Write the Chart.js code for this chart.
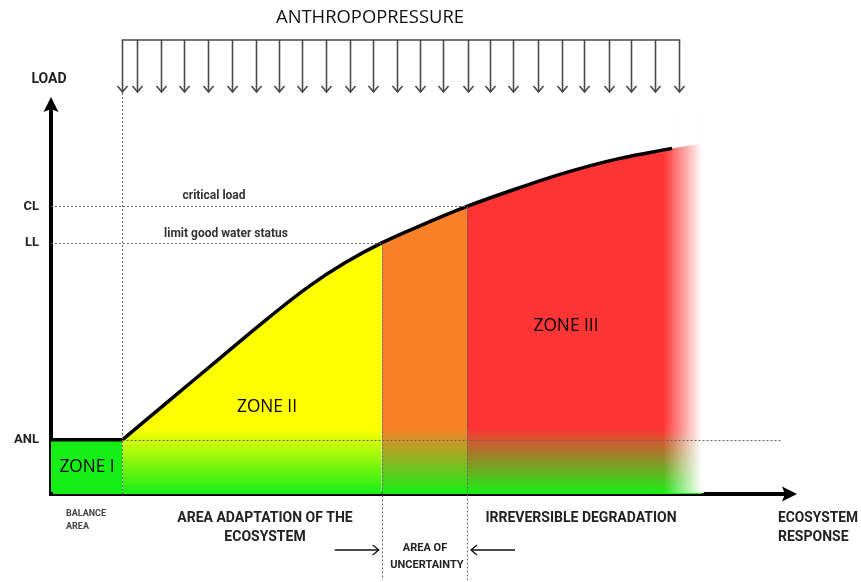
<!DOCTYPE html>
<html><head><meta charset="utf-8">
<script src="https://cdn.jsdelivr.net/npm/chart.js@4.4.1/dist/chart.umd.min.js"></script>
<style>html,body{margin:0;padding:0;background:#fff}#wrap{width:861px;height:582px;position:relative}</style>
</head><body><div id="wrap"><canvas id="c" width="861" height="582"></canvas></div>
<script>
// ---- data (diagram units: x 0-100 ecosystem response, y 0-100 load) ----
const curveX = [9.7, 16.2, 23.0, 29.8, 35.2, 40.0, 45.0, 50.9, 56.6, 63.8, 70.6, 77.4, 84.5, 88.6];
const curveY = [14.1, 24.5, 35.4, 46.2, 54.2, 60.2, 65.4, 70.4, 74.9, 79.8, 84.0, 87.4, 90.0, 91.2];
const levelNames = ['ANL', 'LL', 'CL'];
const levelValues = [14.1, 65.4, 74.9];
const zoneBounds = [0, 9.7, 45.0, 56.6, 88.6];
const zoneNames = ['ZONE I', 'ZONE II', 'ZONE III'];
const lineEnd = 84.5;
const fadeStart = 83.3;
const anlLineEnd = 99.5;
const pressureArrows = [9.7, 11.7, 15.0, 18.1, 21.4, 24.6, 27.9, 31.0, 34.1, 37.4, 40.7, 43.8, 47.1, 50.2, 53.3, 56.7, 59.7, 62.9, 66.3, 69.5, 72.5, 75.9, 78.9, 82.2, 85.4];

const pts = curveX.map((v, i) => ({x: v, y: curveY[i]}));
const between = (lo, hi) => pts.filter(p => p.x >= lo - 1e-9 && p.x <= hi + 1e-9);
const ANL = levelValues[0], LL = levelValues[1], CL = levelValues[2];

const GREEN = '#16ef16';
function zoneGrad(color) {
  return (ctx) => {
    const chart = ctx.chart;
    if (!chart.chartArea) return color;
    const y = chart.scales.y;
    const g = chart.ctx.createLinearGradient(0, y.getPixelForValue(ANL + 3), 0, y.getPixelForValue(0));
    g.addColorStop(0, color);
    g.addColorStop(1, GREEN);
    return g;
  };
}

function txt(ctx, s, x, y, font, color, align, maxW) {
  ctx.font = font; ctx.fillStyle = color; ctx.textAlign = align; ctx.textBaseline = 'middle';
  if (maxW) ctx.fillText(s, x, y, maxW); else ctx.fillText(s, x, y);
}

const diagram = {
  id: 'diagram',
  afterDatasetDraw(chart, args) {
    if (args.index !== 4) return;
    const {ctx, chartArea: a, scales: {x}} = chart;
    const fx0 = x.getPixelForValue(fadeStart), fx1 = x.getPixelForValue(zoneBounds[4]);
    const g = ctx.createLinearGradient(fx0, 0, fx1, 0);
    g.addColorStop(0, 'rgba(255,255,255,0)');
    g.addColorStop(1, 'rgba(255,255,255,1)');
    ctx.save(); ctx.fillStyle = g; ctx.fillRect(fx0, a.top, fx1 - fx0 + 2, a.bottom - a.top - 1); ctx.restore();
  },
  afterDatasetsDraw(chart) {
    const {ctx, chartArea: a, scales: {x, y}} = chart;
    ctx.save();
    ctx.strokeStyle = '#666'; ctx.lineWidth = 1; ctx.setLineDash([2, 2]);
    const seg = (x0, y0, x1, y1) => { ctx.beginPath(); ctx.moveTo(x0, y0); ctx.lineTo(x1, y1); ctx.stroke(); };
    const px = v => Math.round(x.getPixelForValue(v)) + 0.5;
    const py = v => Math.round(y.getPixelForValue(v)) + 0.5;
    seg(a.left, py(CL), px(zoneBounds[3]), py(CL));
    seg(a.left, py(LL), px(zoneBounds[2]), py(LL));
    seg(px(zoneBounds[1]), py(ANL), px(anlLineEnd), py(ANL));
    seg(px(zoneBounds[1]), 93, px(zoneBounds[1]), a.bottom);
    seg(px(zoneBounds[2]), py(LL), px(zoneBounds[2]), 580);
    seg(px(zoneBounds[3]), py(CL), px(zoneBounds[3]), 580);
    ctx.restore();
  },
  afterDraw(chart) {
    const {ctx, chartArea: a, scales: {x}} = chart;
    ctx.save();
    ctx.fillStyle = '#000';
    ctx.fillRect(a.left - 2, a.bottom - 2, 4, 4);
    ctx.beginPath(); ctx.moveTo(a.left, 97); ctx.lineTo(a.left - 7.5, 112); ctx.lineTo(a.left, 109); ctx.lineTo(a.left + 7.5, 112); ctx.closePath(); ctx.fill();
    ctx.beginPath(); ctx.moveTo(a.right + 11, a.bottom); ctx.lineTo(a.right - 4, a.bottom - 7.5); ctx.lineTo(a.right - 1, a.bottom); ctx.lineTo(a.right - 4, a.bottom + 7.5); ctx.closePath(); ctx.fill();

    ctx.strokeStyle = '#4a4a4a'; ctx.lineWidth = 1.6; ctx.lineCap = 'butt';
    const ax = pressureArrows.map(v => Math.round(x.getPixelForValue(v)) + 0.5);
    ctx.beginPath(); ctx.moveTo(ax[0] - 0.8, 40); ctx.lineTo(ax[ax.length - 1] + 0.8, 40); ctx.stroke();
    ax.forEach(p => {
      ctx.beginPath(); ctx.moveTo(p, 40); ctx.lineTo(p, 92); ctx.stroke();
      ctx.beginPath(); ctx.moveTo(p - 5, 86); ctx.lineTo(p, 92); ctx.lineTo(p + 5, 86); ctx.stroke();
    });

    ctx.strokeStyle = '#111'; ctx.lineWidth = 1.3;
    const u0 = x.getPixelForValue(zoneBounds[2]), u1 = x.getPixelForValue(zoneBounds[3]);
    ctx.beginPath(); ctx.moveTo(u0 - 47, 550); ctx.lineTo(u0 - 3, 550); ctx.stroke();
    ctx.beginPath(); ctx.moveTo(u0 - 9, 545); ctx.lineTo(u0 - 3, 550); ctx.lineTo(u0 - 9, 555); ctx.stroke();
    ctx.beginPath(); ctx.moveTo(u1 + 48, 550); ctx.lineTo(u1 + 4, 550); ctx.stroke();
    ctx.beginPath(); ctx.moveTo(u1 + 10, 545); ctx.lineTo(u1 + 4, 550); ctx.lineTo(u1 + 10, 555); ctx.stroke();

    const B = 'bold 14px Roboto', dark = '#222';
    txt(ctx, 'ANTHROPOPRESSURE', 370, 18, '19px "Open Sans"', '#111', 'center', 188);
    txt(ctx, 'LOAD', 49, 79, B, dark, 'center', 36);
    txt(ctx, 'critical load', 214, 196, 'bold 12px Roboto', '#333', 'center', 70);
    txt(ctx, 'limit good water status', 226, 234, 'bold 12px Roboto', '#333', 'center', 141);
    txt(ctx, zoneNames[0], 87, 467, '18px "Open Sans"', '#000', 'center', 55);
    txt(ctx, zoneNames[1], 267, 407, '18px "Open Sans"', '#000', 'center', 60);
    txt(ctx, zoneNames[2], 566, 326, '18px "Open Sans"', '#000', 'center', 65);
    txt(ctx, 'BALANCE', 66, 514, 'bold 9px Roboto', '#444', 'left', 40);
    txt(ctx, 'AREA', 66, 527, 'bold 9px Roboto', '#444', 'left', 24);
    txt(ctx, 'AREA ADAPTATION OF THE', 265, 518, B, dark, 'center', 181);
    txt(ctx, 'ECOSYSTEM', 265, 537, B, dark, 'center', 83);
    txt(ctx, 'AREA OF', 425, 548, 'bold 11px Roboto', dark, 'center', 49);
    txt(ctx, 'UNCERTAINTY', 427, 565, 'bold 11px Roboto', dark, 'center', 76);
    txt(ctx, 'IRREVERSIBLE DEGRADATION', 581, 518, B, dark, 'center', 194);
    txt(ctx, 'ECOSYSTEM', 778, 518, B, dark, 'left', 80);
    txt(ctx, 'RESPONSE', 778, 537, B, dark, 'left', 73);
    ctx.restore();
  }
};

new Chart(document.getElementById('c'), {
  type: 'line',
  data: {
    datasets: [
      {label: 'load curve', data: pts.filter(p => p.x <= lineEnd), borderColor: '#000', borderWidth: 3.5, fill: false, tension: 0.4, order: 0},
      {label: zoneNames[0], data: [{x: zoneBounds[0], y: ANL}, {x: zoneBounds[1], y: ANL}], borderColor: '#000', borderWidth: 3.5, fill: 'origin', backgroundColor: GREEN, order: 1},
      {label: zoneNames[1], data: between(zoneBounds[1], zoneBounds[2]), borderWidth: 0, borderColor: 'rgba(0,0,0,0)', fill: 'origin', backgroundColor: zoneGrad('#ffff00'), tension: 0.4, order: 2},
      {label: 'uncertainty', data: between(zoneBounds[2], zoneBounds[3]), borderWidth: 0, borderColor: 'rgba(0,0,0,0)', fill: 'origin', backgroundColor: zoneGrad('#fa8028'), tension: 0.4, order: 3},
      {label: zoneNames[2], data: between(zoneBounds[3], zoneBounds[4]), borderWidth: 0, borderColor: 'rgba(0,0,0,0)', fill: 'origin', backgroundColor: zoneGrad('#ff3434'), tension: 0.4, order: 4}
    ]
  },
  options: {
    responsive: false, animation: false, devicePixelRatio: 1,
    layout: {padding: {top: 110, right: 75, left: 0, bottom: 0}},
    elements: {point: {radius: 0}},
    plugins: {legend: {display: false}, tooltip: {enabled: false}},
    scales: {
      x: {type: 'linear', min: 0, max: 100, z: 1,
        afterFit(s) { s.height = 88; },
        ticks: {display: false}, grid: {display: false, drawTicks: false},
        border: {display: true, color: '#000', width: 4}},
      y: {type: 'linear', min: 0, max: 100, z: 1,
        afterFit(s) { s.width = 51; },
        afterBuildTicks(s) { s.ticks = levelValues.map(v => ({value: v})); },
        ticks: {autoSkip: false, padding: 12, color: '#222', font: {family: 'Roboto', weight: 'bold', size: 13},
          callback: (v) => { const i = levelValues.indexOf(v); return i >= 0 ? levelNames[i] : ''; }},
        grid: {display: false, drawTicks: false},
        border: {display: true, color: '#000', width: 4}}
    }
  },
  plugins: [diagram]
});
</script></body></html>
